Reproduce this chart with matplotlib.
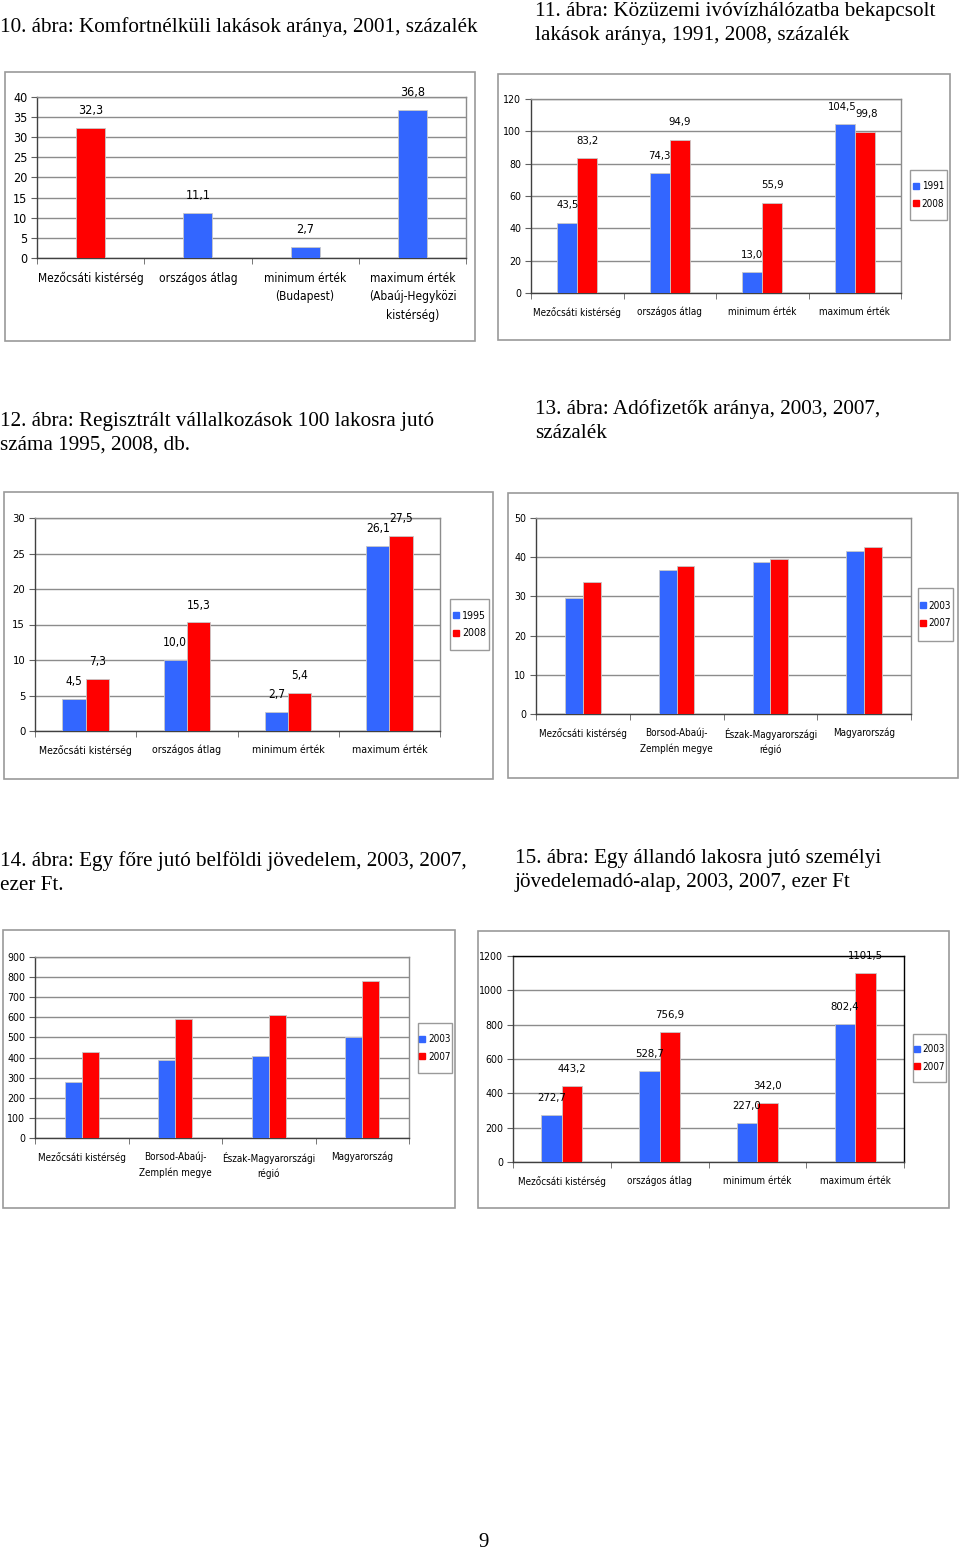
import matplotlib
matplotlib.use("Agg")
import matplotlib.pyplot as plt
from matplotlib.patches import Rectangle
from matplotlib.lines import Line2D
from matplotlib import font_manager as fm
import numpy as np

W, H = 960, 1551
BLUE = "#3366FF"
RED = "#FF0000"
SERIF = ["Liberation Serif", "DejaVu Serif"]

# pick a condensed sans if one is installed
_names = {f.name for f in fm.fontManager.ttflist}
_cond = [f for f in fm.fontManager.ttflist
         if f.name == "DejaVu Sans" and str(f.stretch) in ("condensed", "semi-condensed", "600", "500")]
if "Liberation Sans Narrow" in _names:
    NARROW = ["Liberation Sans Narrow"]
    STRETCH = "normal"
    SCALE = 1.0
elif _cond:
    NARROW = ["DejaVu Sans"]
    STRETCH = "condensed"
    SCALE = 0.95
else:
    NARROW = ["Liberation Sans"]
    STRETCH = "normal"
    SCALE = 0.92

# ---------------- data ----------------
cat1 = ["Mezőcsáti kistérség", "országos átlag", "minimum érték\n(Budapest)",
        "maximum érték\n(Abaúj-Hegyközi\nkistérség)"]
val1 = [32.3, 11.1, 2.7, 36.8]
col1 = [RED, BLUE, BLUE, BLUE]

cat2 = ["Mezőcsáti kistérség", "országos átlag", "minimum érték", "maximum érték"]
ser2 = ["1991", "2008"]
val2_a = [43.5, 74.3, 13.0, 104.5]
val2_b = [83.2, 94.9, 55.9, 99.8]

cat3 = ["Mezőcsáti kistérség", "országos átlag", "minimum érték", "maximum érték"]
ser3 = ["1995", "2008"]
val3_a = [4.5, 10.0, 2.7, 26.1]
val3_b = [7.3, 15.3, 5.4, 27.5]

cat4 = ["Mezőcsáti kistérség", "Borsod-Abaúj-\nZemplén megye", "Észak-Magyarországi\nrégió", "Magyarország"]
ser4 = ["2003", "2007"]
val4_a = [29.6, 36.8, 38.7, 41.7]
val4_b = [33.8, 37.7, 39.5, 42.5]

cat5 = ["Mezőcsáti kistérség", "Borsod-Abaúj-\nZemplén megye", "Észak-Magyarországi\nrégió", "Magyarország"]
ser5 = ["2003", "2007"]
val5_a = [277, 389, 406, 500]
val5_b = [426, 592, 610, 779]

cat6 = ["Mezőcsáti kistérség", "országos átlag", "minimum érték", "maximum érték"]
ser6 = ["2003", "2007"]
val6_a = [272.7, 528.7, 227.0, 802.4]
val6_b = [443.2, 756.9, 342.0, 1101.5]

titles = [
    (0, 32, ["10. ábra: Komfortnélküli lakások aránya, 2001, százalék"]),
    (535, 16, ["11. ábra: Közüzemi ivóvízhálózatba bekapcsolt",
               "lakások aránya, 1991, 2008, százalék"]),
    (0, 426, ["12. ábra: Regisztrált vállalkozások 100 lakosra jutó",
              "száma 1995, 2008, db."]),
    (535, 414, ["13. ábra: Adófizetők aránya, 2003, 2007,", "százalék"]),
    (0, 866, ["14. ábra: Egy főre jutó belföldi jövedelem, 2003, 2007,", "ezer Ft."]),
    (515, 863, ["15. ábra: Egy állandó lakosra jutó személyi",
                "jövedelemadó-alap, 2003, 2007, ezer Ft"]),
]


def fmt(v):
    return f"{v:.1f}".replace(".", ",")


fig = plt.figure(figsize=(W / 100, H / 100), dpi=100)
fig.patch.set_facecolor("white")


def fx(x):
    return x / W


def fy(y):
    return 1 - y / H


def nfont(size):
    return fm.FontProperties(family=NARROW, stretch=STRETCH, size=size * SCALE)


def box(x0, y0, x1, y1):
    fig.patches.append(Rectangle((fx(x0), fy(y1)), (x1 - x0) / W, (y1 - y0) / H,
                                 transform=fig.transFigure, fill=False,
                                 edgecolor="#9a9a9a", linewidth=1.2))


def make_ax(x0, y0, x1, y1, ymax, ystep, cats, fs, border="#8c8c8c"):
    ax = fig.add_axes([fx(x0), fy(y1), (x1 - x0) / W, (y1 - y0) / H])
    n = len(cats)
    ax.set_xlim(-0.5, n - 0.5)
    ax.set_ylim(0, ymax)
    ax.set_yticks(np.arange(0, ymax + ystep / 2, ystep))
    ax.yaxis.grid(True, color="#8c8c8c", linewidth=1.0)
    ax.set_axisbelow(True)
    ax.set_xticks(range(n))
    ax.set_xticklabels(cats, fontproperties=nfont(fs), linespacing=1.55)
    ax.tick_params(axis="x", length=0, pad=10)
    ax.set_xticks(np.arange(-0.5, n, 1.0), minor=True)
    ax.tick_params(axis="x", which="minor", length=4, color="#606060")
    ax.tick_params(axis="y", length=4, color="#606060", pad=3)
    for lab in ax.get_yticklabels():
        lab.set_fontproperties(nfont(fs + 0.5))
    for s in ["left", "bottom"]:
        ax.spines[s].set_color("#404040")
        ax.spines[s].set_linewidth(1.0)
    for s in ["top", "right"]:
        ax.spines[s].set_color(border)
        ax.spines[s].set_linewidth(1.0)
    return ax


def label_bars(ax, bars, vals, fs, dx=None):
    dx = dx or [0] * len(vals)
    for b, v, d in zip(bars, vals, dx):
        ax.annotate(fmt(v), (b.get_x() + b.get_width() / 2, b.get_height()),
                    xytext=(d, 12.5), textcoords="offset points", ha="center",
                    va="center", fontproperties=nfont(fs),
                    annotation_clip=False)


def legend(x0, y0, x1, y1, labels, fs):
    fig.patches.append(Rectangle((fx(x0), fy(y1)), (x1 - x0) / W, (y1 - y0) / H,
                                 transform=fig.transFigure, fill=True,
                                 facecolor="white", edgecolor="#9a9a9a",
                                 linewidth=1.0, zorder=5))
    handles = [Line2D([], [], marker="s", linestyle="none", markersize=4.5,
                      markerfacecolor=c, markeredgecolor=c) for c in (BLUE, RED)]
    fig.legend(handles, labels, loc="center",
               bbox_to_anchor=(fx((x0 + x1) / 2), fy((y0 + y1) / 2)),
               frameon=False, prop=nfont(fs),
               handlelength=0.6, handletextpad=0.3, labelspacing=0.75,
               borderpad=0.2)


def grouped(ax, a, b, width):
    x = np.arange(len(a))
    ba = ax.bar(x - width / 2, a, width, color=BLUE, edgecolor="#c8c8c8",
                linewidth=0.6, zorder=3)
    bb = ax.bar(x + width / 2, b, width, color=RED, edgecolor="#c8c8c8",
                linewidth=0.6, zorder=3)
    return ba, bb


# ---------------- chart 10 ----------------
box(5, 72, 475, 341)
ax1 = make_ax(37, 97, 466, 258, 40, 5, cat1, 9)
bars = ax1.bar(np.arange(len(val1)), val1, 0.27, color=col1, edgecolor="#c8c8c8",
               linewidth=0.6, zorder=3)
label_bars(ax1, bars, val1, 9.5)

# ---------------- chart 11 ----------------
box(498, 74, 950, 340)
ax2 = make_ax(531, 99, 901, 293, 120, 20, cat2, 7.5)
ba, bb = grouped(ax2, val2_a, val2_b, 0.215)
label_bars(ax2, ba, val2_a, 8.5, dx=[0, 0, 0, -2])
label_bars(ax2, bb, val2_b, 8.5, dx=[0, 0, 0, 1.5])
legend(910, 170, 947, 220, ser2, 7.5)

# ---------------- chart 12 ----------------
box(4, 492, 493, 779)
ax3 = make_ax(35, 518, 440, 731, 30, 5, cat3, 8)
ba, bb = grouped(ax3, val3_a, val3_b, 0.23)
label_bars(ax3, ba, val3_a, 9)
label_bars(ax3, bb, val3_b, 9)
legend(450, 599, 489, 650, ser3, 8)

# ---------------- chart 13 ----------------
box(508, 493, 958, 778)
ax4 = make_ax(536, 518, 911, 714, 50, 10, cat4, 7.5)
grouped(ax4, val4_a, val4_b, 0.19)
legend(918, 588, 953, 641, ser4, 7.5)

# ---------------- chart 14 ----------------
box(3, 930, 455, 1208)
ax5 = make_ax(35, 957, 409, 1138, 900, 100, cat5, 7.5)
grouped(ax5, val5_a, val5_b, 0.18)
legend(418, 1023, 452, 1073, ser5, 7.5)

# ---------------- chart 15 ----------------
box(478, 931, 949, 1208)
ax6 = make_ax(513, 956, 904, 1162, 1200, 200, cat6, 7.5, border="#000000")
ba, bb = grouped(ax6, val6_a, val6_b, 0.21)
label_bars(ax6, ba, val6_a, 8.5)
label_bars(ax6, bb, val6_b, 8.5)
legend(913, 1034, 946, 1082, ser6, 7.5)

# ---------------- titles ----------------
for x, yb, lines in titles:
    for i, line in enumerate(lines):
        fig.text(fx(x), fy(yb + 24 * i), line, ha="left", va="baseline",
                 fontsize=15.2, family=SERIF)

fig.text(fx(484), fy(1547), "9", ha="center", va="baseline", fontsize=15,
         family=SERIF)

fig.savefig("out.png", dpi=100, facecolor="white")
